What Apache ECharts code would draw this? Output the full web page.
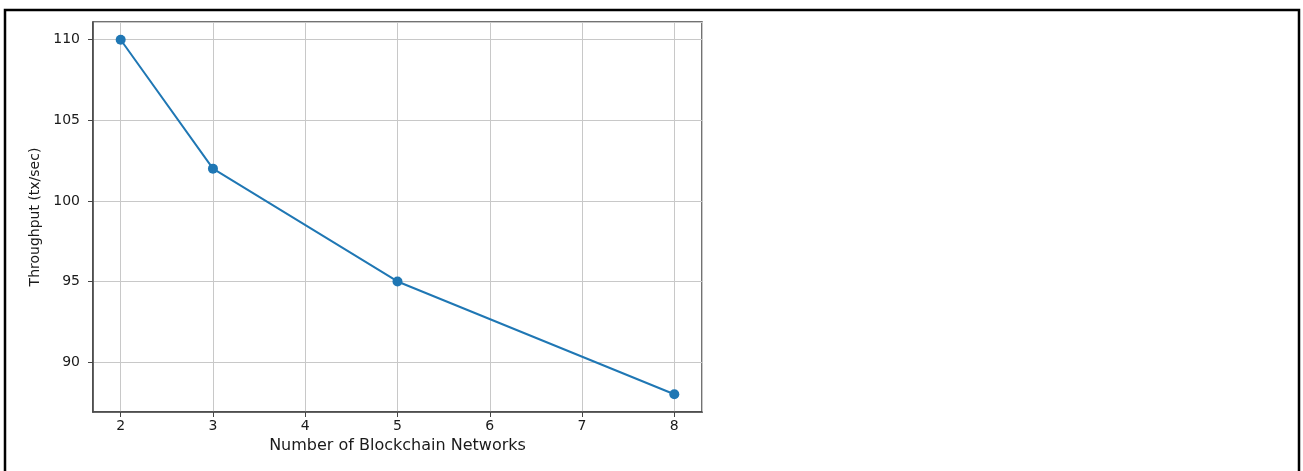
<!DOCTYPE html>
<html>
<head>
<meta charset="utf-8">
<style>
html,body{margin:0;padding:0;background:#fff;}
#chart{width:1303px;height:471px;}
</style>
<script src="https://cdn.jsdelivr.net/npm/echarts@6/dist/echarts.min.js"></script>
</head>
<body>
<div id="chart"></div>
<script>
var networks = [2, 3, 5, 8];
var throughput = [110, 102, 95, 88];
var xName = 'Number of Blockchain Networks';
var yName = 'Throughput (tx/sec)';

var chart = echarts.init(document.getElementById('chart'), null, {renderer: 'canvas'});
var font = 'DejaVu Sans';
var option = {
  backgroundColor: '#ffffff',
  animation: false,
  grid: {left: 93, right: 601, top: 22, bottom: 59, show: true, borderColor: '#444', borderWidth: 1.5, backgroundColor: 'transparent'},
  xAxis: {
    type: 'value', min: 1.7, max: 8.3,
    name: xName, nameLocation: 'middle', nameGap: 25,
    nameTextStyle: {fontFamily: font, fontSize: 16, color: '#1a1a1a'},
    axisLine: {show: true, lineStyle: {color: '#444', width: 1.5}},
    axisTick: {show: true, length: 5, lineStyle: {color: '#444'}},
    axisLabel: {fontFamily: font, fontSize: 14, color: '#1a1a1a', margin: 7, showMinLabel: false, showMaxLabel: false},
    splitLine: {show: true, lineStyle: {color: '#c8c8c8', width: 1}}
  },
  yAxis: {
    type: 'value', min: 86.9, max: 111.1,
    name: yName, nameLocation: 'middle', nameGap: 51,
    nameTextStyle: {fontFamily: font, fontSize: 14, color: '#1a1a1a'},
    axisLine: {show: true, lineStyle: {color: '#444', width: 1.5}},
    axisTick: {show: true, length: 5, lineStyle: {color: '#444'}},
    axisLabel: {fontFamily: font, fontSize: 14, color: '#1a1a1a', margin: 13, showMinLabel: false, showMaxLabel: false},
    splitLine: {show: true, lineStyle: {color: '#c8c8c8', width: 1}}
  },
  series: [{
    type: 'line',
    data: networks.map(function (n, i) { return [n, throughput[i]]; }),
    symbol: 'circle', symbolSize: 10,
    itemStyle: {color: '#1f77b4'},
    lineStyle: {color: '#1f77b4', width: 2}
  }],
  graphic: [{
    type: 'polyline',
    shape: {points: [[5, 471], [5, 10], [1299, 10], [1299, 471]]},
    style: {stroke: '#000', lineWidth: 2.5, fill: null},
    silent: true
  }]
};
chart.setOption(option);
</script>
</body>
</html>
